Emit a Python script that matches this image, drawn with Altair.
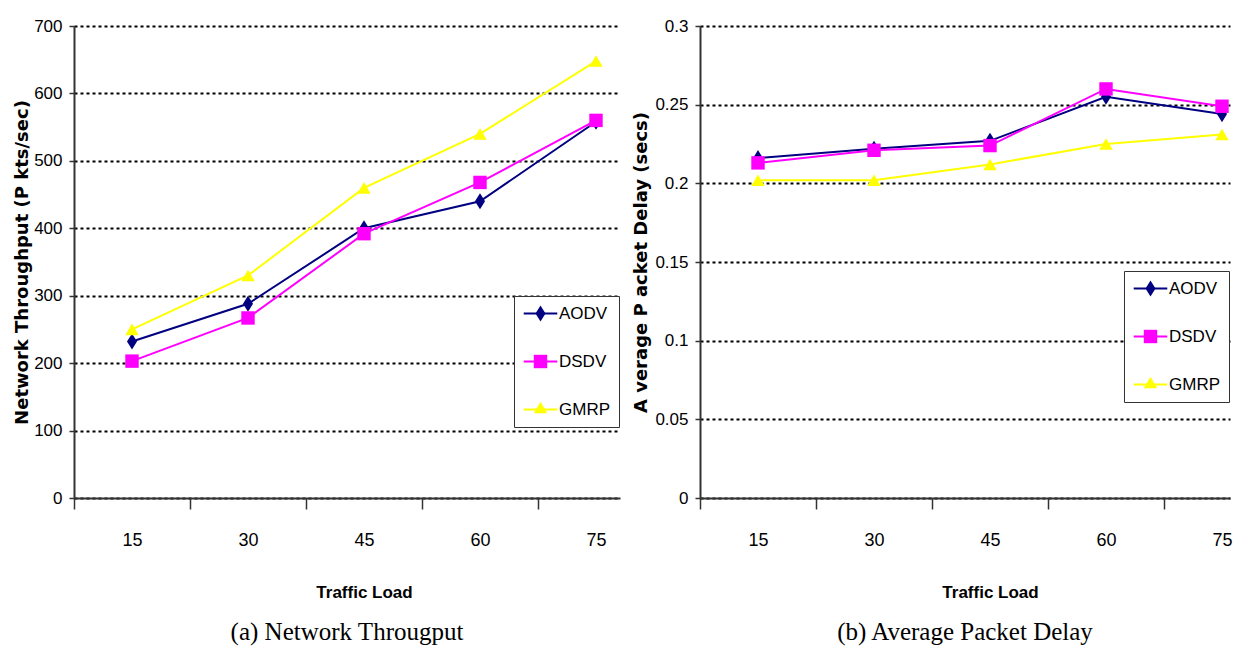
import altair as alt
import pandas as pd

# ---------------- data ----------------
loads = [15, 30, 45, 60, 75]
protocols = ["AODV", "DSDV", "GMRP"]
colors = ["#000080", "#FF00FF", "#FFFF00"]

throughput_aodv = [232, 288, 400, 440, 558]
throughput_dsdv = [203, 267, 392, 468, 560]
throughput_gmrp = [250, 330, 460, 540, 648]

delay_aodv = [0.216, 0.222, 0.227, 0.255, 0.244]
delay_dsdv = [0.213, 0.221, 0.224, 0.260, 0.249]
delay_gmrp = [0.202, 0.202, 0.212, 0.225, 0.231]

throughput_ticks = [0, 100, 200, 300, 400, 500, 600, 700]
delay_ticks = [0, 0.05, 0.1, 0.15, 0.2, 0.25, 0.3]
x_ticks = [7.5, 15, 22.5, 30, 37.5, 45, 52.5, 60, 67.5, 75]

SANS = "Liberation Sans, Arial, sans-serif"
DIAMOND = "M0,-1.2L0.75,0L0,1.2L-0.75,0Z"
LEGEND_LINE = "M-2.5,0L2.5,0"
SHAPES = [DIAMOND, "square", "triangle-up"]


def make_df(series_values):
    rows = []
    for name, vals in zip(protocols, series_values):
        for l, v in zip(loads, vals):
            rows.append({"load": l, "value": v, "series": name, "marker": name})
    return pd.DataFrame(rows)


def panel(df, ytitle, yticks, ydomain, yfmt, width, xmax, lx, ly, caption, ytitle_pad):
    x = alt.X(
        "load:Q",
        scale=alt.Scale(domain=[7.5, xmax], nice=False, zero=False),
        axis=alt.Axis(
            values=x_ticks,
            title="Traffic Load",
            titleX=290,
            titlePadding=35,
            titleFont=SANS,
            titleFontSize=17,
            titleFontWeight="bold",
            labelExpr="datum.value % 15 == 0 ? datum.label : ''",
            tickOpacity={"condition": {"test": "datum.value % 15 != 0", "value": 1}, "value": 0},
            tickSize=11,
            tickWidth=1.5,
            labelPadding=22,
            labelFont=SANS,
            labelFontSize=18,
            labelFlush=False,
            labelOverlap=False,
            grid=False,
        ),
    )
    y = alt.Y(
        "value:Q",
        scale=alt.Scale(domain=ydomain, nice=False, zero=True),
        axis=alt.Axis(
            values=yticks,
            format=yfmt,
            title=ytitle,
            titleFont="DejaVu Sans",
            titleFontSize=18,
            titleFontWeight="bold",
            titlePadding=ytitle_pad,
            labelFont=SANS,
            labelFontSize=17,
            labelPadding=7,
            tickSize=5,
            tickWidth=1.5,
            grid=True,
            gridColor="black",
            gridDash=[3, 3],
            gridWidth=2,
        ),
    )
    common_legend = dict(
        orient="none",
        legendX=lx,
        legendY=ly,
        direction="vertical",
        title=None,
        padding=9,
        labelFont=SANS,
        labelFontSize=17,
        labelOffset=10,
        symbolSize=180,
        symbolOffset=9,
        symbolStrokeWidth=2,
    )
    line = alt.Chart(df).mark_line(strokeWidth=2).encode(
        x=x,
        y=y,
        color=alt.Color(
            "series:N",
            scale=alt.Scale(domain=protocols, range=colors),
            legend=alt.Legend(
                fillColor="white",
                strokeColor="#333333",
                labelColor="black",
                symbolType=LEGEND_LINE,
                rowPadding=30,
                zindex=1,
                **common_legend,
            ),
        ),
    )
    marker_legend = alt.Legend(
        labelOpacity=0,
        symbolStrokeColor="transparent",
        rowPadding=24,
        zindex=2,
        **common_legend,
    )
    points = alt.Chart(df).mark_point(filled=True, size=180, opacity=1, strokeWidth=0).encode(
        x=x,
        y=y,
        fill=alt.Fill("marker:N", scale=alt.Scale(range=colors), legend=marker_legend),
        shape=alt.Shape("marker:N", scale=alt.Scale(range=SHAPES), legend=marker_legend),
    )
    return (line + points).properties(
        width=width,
        height=472,
        title=alt.TitleParams(
            text=caption,
            orient="bottom",
            font="Liberation Serif",
            fontSize=25,
            fontWeight="normal",
            color="black",
            offset=20,
        ),
    )


left = panel(
    make_df([throughput_aodv, throughput_dsdv, throughput_gmrp]),
    "Network Throughput (P kts/sec)",
    throughput_ticks,
    [0, 700],
    "d",
    546,
    7.5 + 546 * 15 / 116,
    440,
    270,
    "(a)  Network Througput",
    2,
)
right = panel(
    make_df([delay_aodv, delay_dsdv, delay_gmrp]),
    "A verage P acket Delay (secs)",
    delay_ticks,
    [0, 0.3],
    ".2~f",
    530,
    7.5 + 530 * 15 / 116,
    424,
    245,
    "(b)  Average Packet Delay",
    4,
)

chart = (
    alt.hconcat(left, right, spacing=11)
    .resolve_scale(color="independent", fill="independent", shape="independent")
    .resolve_legend(color="independent", fill="independent", shape="independent")
    .properties(padding={"left": 5, "top": 8, "right": 0, "bottom": 0}, background="white")
    .configure_view(stroke="transparent")
    .configure_axis(
        domainColor="#333333",
        domainWidth=2,
        tickColor="#333333",
        labelColor="black",
        titleColor="black",
    )
)

chart.save("out.html", embed_options={"renderer": "svg", "actions": False})
